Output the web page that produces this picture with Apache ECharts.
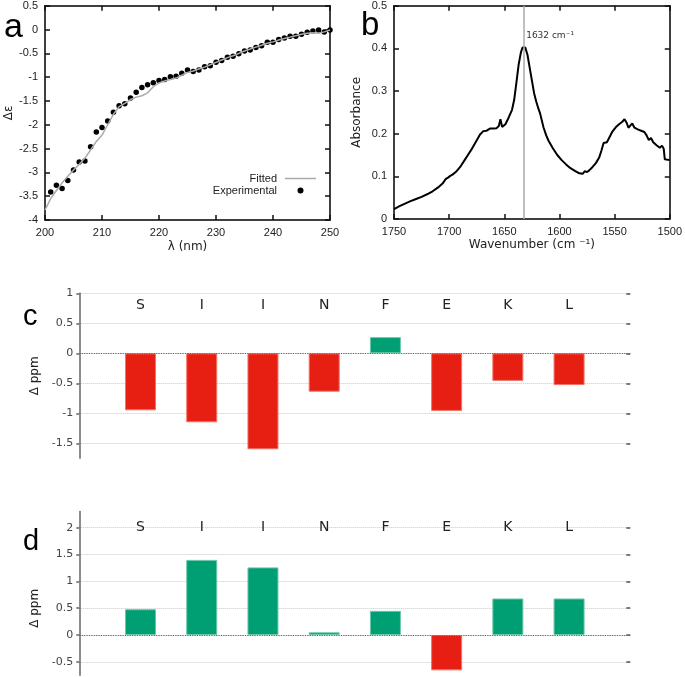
<!DOCTYPE html>
<html><head><meta charset="utf-8">
<script src="https://cdn.jsdelivr.net/npm/echarts@6/dist/echarts.min.js"></script>
<style>html,body{margin:0;padding:0;background:#fff}#c{width:685px;height:677px}</style>
</head><body><div id="c"></div>
<script>
// ---- Panel a: CD spectrum ----
const cdWavelength = [201,202,203,204,205,206,207,208,209,210,211,212,213,214,215,216,217,218,219,220,221,222,223,224,225,226,227,228,229,230,231,232,233,234,235,236,237,238,239,240,241,242,243,244,245,246,247,248,249,250];
const cdExperimental = [-3.41,-3.27,-3.34,-3.17,-2.95,-2.78,-2.76,-2.46,-2.15,-2.06,-1.92,-1.74,-1.60,-1.56,-1.44,-1.32,-1.22,-1.16,-1.12,-1.07,-1.05,-0.99,-0.98,-0.92,-0.85,-0.88,-0.85,-0.78,-0.76,-0.69,-0.65,-0.58,-0.56,-0.51,-0.45,-0.43,-0.38,-0.34,-0.27,-0.27,-0.21,-0.18,-0.14,-0.14,-0.10,-0.06,-0.03,-0.01,-0.05,-0.01];
const fitWavelength = [200,201,202,203,204,205,206,207,208,209,210,211,212,213,214,215,216,217,218,219,220,221,222,223,224,225,226,227,228,229,230,231,232,233,234,235,236,237,238,239,240,241,242,243,244,245,246,247,248,249,250];
const cdFitted = [-3.79,-3.55,-3.38,-3.22,-3.08,-2.95,-2.83,-2.70,-2.53,-2.35,-2.22,-2.00,-1.78,-1.62,-1.55,-1.47,-1.42,-1.39,-1.33,-1.20,-1.12,-1.08,-1.05,-1.02,-0.96,-0.90,-0.87,-0.83,-0.79,-0.74,-0.69,-0.64,-0.59,-0.55,-0.50,-0.45,-0.41,-0.37,-0.33,-0.29,-0.26,-0.22,-0.19,-0.16,-0.13,-0.10,-0.08,-0.07,-0.08,-0.05,-0.01];
const ticksAx = [200,210,220,230,240,250];
const ticksAy = [-4,-3.5,-3,-2.5,-2,-1.5,-1,-0.5,0,0.5];

// ---- Panel b: IR spectrum ----
const irWavenumber = [1750,1745,1740,1735,1730,1725,1720,1715,1710,1706,1703,1701,1699,1697,1694,1690,1686,1683,1680,1676,1672,1669,1666,1663,1660,1657,1655,1653.5,1652,1649,1646,1643,1641,1639,1637,1635,1633.5,1631,1629,1627,1625,1623,1621,1619,1617.5,1616,1614.5,1612,1610,1606,1602,1598,1594,1590,1586,1582,1579,1577,1575,1573,1570,1567,1564,1562,1560,1557,1555,1552,1549,1546,1543,1541,1539,1537.5,1536,1534,1532,1529,1526,1523,1521,1519,1517,1515,1512,1509,1507,1505.5,1504.5,1500];
const irAbsorbance = [0.023,0.030,0.036,0.042,0.047,0.052,0.058,0.065,0.074,0.083,0.094,0.097,0.101,0.104,0.110,0.122,0.138,0.150,0.162,0.180,0.198,0.206,0.207,0.212,0.212,0.213,0.218,0.234,0.216,0.222,0.238,0.256,0.280,0.320,0.362,0.390,0.402,0.402,0.385,0.355,0.325,0.295,0.275,0.258,0.247,0.245,0.215,0.196,0.184,0.166,0.150,0.138,0.128,0.119,0.113,0.107,0.106,0.112,0.110,0.114,0.122,0.131,0.144,0.160,0.178,0.180,0.190,0.205,0.215,0.222,0.228,0.234,0.225,0.214,0.218,0.224,0.214,0.210,0.207,0.204,0.196,0.185,0.190,0.180,0.173,0.167,0.172,0.165,0.140,0.138];
const peakWavenumber = 1632;
const peakLabel = '1632 cm\u207B\u00B9';
const ticksBx = [1500,1550,1600,1650,1700,1750];
const ticksBy = [0,0.1,0.2,0.3,0.4,0.5];

// ---- Panels c, d: chemical shift differences ----
const residues = ['S','I','I','N','F','E','K','L'];
const shiftC = [-0.95,-1.15,-1.60,-0.64,0.27,-0.96,-0.46,-0.53];
const shiftD = [0.48,1.40,1.26,0.05,0.45,-0.66,0.68,0.68];
const ticksC = [-1.5,-1,-0.5,0,0.5,1];
const ticksD = [-0.5,0,0.5,1,1.5,2];

const RED = '#e61f12', GREEN = '#009e73';
const RED_EDGE = '#f07468', GREEN_EDGE = '#6cc7a8';
const chart = echarts.init(document.getElementById('c'), null, {renderer:'canvas'});
const plain = v => String(v);

const frameAxis = (grid, min, max, ticks, pos, showLabel, extra) => Object.assign({
  gridIndex: grid, type:'value', min, max, position: pos,
  axisLine:{show:true, onZero:false, lineStyle:{color:'#000', width:1.5}},
  splitLine:{show:false},
  axisTick:{show:true, inside:true, length:5, customValues:ticks, lineStyle:{color:'#111', width:1.5}},
  axisLabel:{show: showLabel, customValues:ticks, color:'#222', fontSize:11, fontFamily:'Liberation Sans', margin:7, formatter:plain}
}, extra||{});

const catX = (grid, margin) => ({
  gridIndex: grid, type:'value', min:-1, max:8, interval:1, position:'top',
  axisLine:{show:false, onZero:false}, axisTick:{show:false}, splitLine:{show:false},
  axisLabel:{show:true, inside:true, margin, fontSize:14, color:'#222', fontFamily:'DejaVu Sans',
    formatter: v => (residues[v] !== undefined ? residues[v] : '')}
});
const ppmY = (grid, min, max, ticks, padRight) => ({
  gridIndex: grid, type:'value', min, max, position:'left',
  name:'\u0394 ppm', nameLocation:'middle', nameGap:37, nameRotate:90,
  nameTextStyle:{fontSize:12, color:'#222', fontFamily:'DejaVu Sans', padding:[0,padRight,0,0]},
  axisLine:{show:true, onZero:false, lineStyle:{color:'#666', width:1.5}},
  axisTick:{show:true, length:3, customValues:ticks, lineStyle:{color:'#666', width:1.5}},
  axisLabel:{show:true, customValues:ticks, fontSize:11, color:'#444', fontFamily:'DejaVu Sans', margin:6, formatter:plain},
  splitLine:{show:true, lineStyle:{color:'#c8c8c8', type:'dotted', width:1}}
});
const ppmYRight = (grid, min, max, ticks) => ({
  gridIndex: grid, type:'value', min, max, position:'right',
  axisLine:{show:false, onZero:false}, splitLine:{show:false}, axisLabel:{show:false},
  axisTick:{show:true, inside:true, length:4, customValues:ticks, lineStyle:{color:'#555', width:1.5}}
});
const barSeries = (xi, yi, vals) => ({
  type:'bar', xAxisIndex:xi, yAxisIndex:yi, barWidth:31,
  data: vals.map((v,i)=>({value:[i, v], itemStyle:{
    color: v < 0 ? RED : GREEN, borderColor: v < 0 ? RED_EDGE : GREEN_EDGE, borderWidth:1}})),
  markLine:{silent:true, symbol:['none','none'], label:{show:false},
    lineStyle:{color:'#666', type:'dotted', width:1.2}, data:[{yAxis:0}]}
});
const nameStyle = {fontSize:12, color:'#222', fontFamily:'DejaVu Sans'};

const option = {
  animation:false,
  backgroundColor:'#fff',
  grid:[
    {left:45, top:5.7, width:285, height:214.3},
    {left:394, top:5.7, width:279.3, height:213.3},
    {left:79.3, top:293.3, width:551, height:165},
    {left:79.3, top:511.6, width:551, height:163.6}
  ],
  legend:{
    data:[{name:'Fitted', icon:'path://M0 0H31V1.5H0Z'}, {name:'Experimental'}],
    orient:'vertical', align:'right',
    right:369, top:173, itemWidth:31, itemHeight:6, itemGap:1, padding:0,
    textStyle:{fontSize:11, color:'#222', fontFamily:'Liberation Sans', padding:[0,3,0,0]}
  },
  xAxis:[
    frameAxis(0, 200, 250, ticksAx, 'bottom', true, {name:'\u03BB (nm)', nameLocation:'middle', nameGap:21, nameTextStyle:nameStyle}),
    frameAxis(0, 200, 250, ticksAx, 'top', false),
    frameAxis(1, 1500, 1750, ticksBx, 'bottom', true, {inverse:true, name:'Wavenumber (cm \u207B\u00B9)', nameLocation:'middle', nameGap:20, nameTextStyle:nameStyle}),
    frameAxis(1, 1500, 1750, ticksBx, 'top', false, {inverse:true}),
    catX(2, 5),
    catX(3, 9)
  ],
  yAxis:[
    frameAxis(0, -4, 0.5, ticksAy, 'left', true, {name:'\u0394\u03B5', nameLocation:'middle', nameGap:30, nameRotate:90, nameTextStyle:nameStyle}),
    frameAxis(0, -4, 0.5, ticksAy, 'right', false),
    frameAxis(1, 0, 0.5, ticksBy, 'left', true, {name:'Absorbance', nameLocation:'middle', nameGap:31, nameRotate:90, nameTextStyle:nameStyle}),
    frameAxis(1, 0, 0.5, ticksBy, 'right', false),
    ppmY(2, -1.75, 1, ticksC, 0),
    ppmYRight(2, -1.75, 1, ticksC),
    ppmY(3, -0.75, 2.3, ticksD, 30),
    ppmYRight(3, -0.75, 2.3, ticksD)
  ],
  series:[
    {name:'Fitted', type:'line', xAxisIndex:0, yAxisIndex:0, symbol:'none', showSymbol:false,
      data: fitWavelength.map((w,i)=>[w, cdFitted[i]]),
      lineStyle:{color:'#aaa', width:1.5}, itemStyle:{color:'#aaa'}},
    {name:'Experimental', type:'scatter', xAxisIndex:0, yAxisIndex:0, symbol:'circle', symbolSize:5.5,
      data: cdWavelength.map((w,i)=>[w, cdExperimental[i]]), itemStyle:{color:'#000', opacity:1}},
    {name:'IR', type:'line', xAxisIndex:2, yAxisIndex:2, symbol:'none',
      data: irWavenumber.map((w,i)=>[w, irAbsorbance[i]]),
      lineStyle:{color:'#000', width:2}, z:3,
      markLine:{silent:true, symbol:['none','none'], label:{show:false},
        lineStyle:{color:'#aaa', width:1.5, type:'solid'}, data:[{xAxis:peakWavenumber}]},
      markPoint:{silent:true, symbol:'circle', symbolSize:0,
        data:[{coord:[peakWavenumber, 0.43]}],
        label:{show:true, position:'right', distance:2, formatter:peakLabel, fontSize:9, color:'#333', fontFamily:'DejaVu Sans'}}},
    barSeries(4, 4, shiftC),
    barSeries(5, 6, shiftD)
  ],
  graphic:[
    {type:'text', left:4, top:11, style:{text:'a', font:'34px "Liberation Sans"', fill:'#000'}},
    {type:'text', left:361, top:9, style:{text:'b', font:'33px "Liberation Sans"', fill:'#000'}},
    {type:'text', left:23, top:302, style:{text:'c', font:'29px "Liberation Sans"', fill:'#000'}},
    {type:'text', left:23, top:527, style:{text:'d', font:'29px "Liberation Sans"', fill:'#000'}}
  ]
};
chart.setOption(option);
</script></body></html>
